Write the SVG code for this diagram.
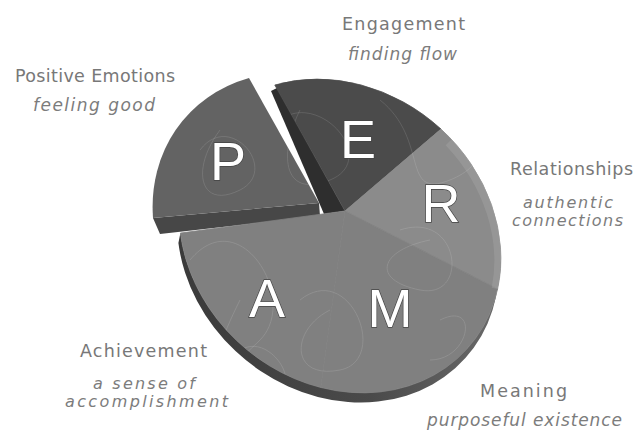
<svg xmlns="http://www.w3.org/2000/svg" width="634" height="432" viewBox="0 0 634 432">
<defs>
<style>
.lbl{font-family:"DejaVu Sans","Liberation Sans",Arial,sans-serif;font-size:17.5px;fill:#787878;text-anchor:middle}
.sub{font-family:"DejaVu Sans","Liberation Sans",Arial,sans-serif;font-size:17px;font-style:italic;fill:#7c7c7c;text-anchor:middle}
.sub2{font-family:"DejaVu Sans","Liberation Sans",Arial,sans-serif;font-size:16px;font-style:italic;fill:#7c7c7c;text-anchor:middle}
.big{font-family:"Liberation Sans",Arial,sans-serif;font-size:54px;fill:#fff;stroke:#444;stroke-width:1.4;paint-order:stroke;text-anchor:middle}
.tex{fill:none;stroke:#fff;stroke-opacity:0.12;stroke-width:1}
.slice{stroke-width:0.8;stroke-linejoin:round}
</style>
<linearGradient id="wallG" x1="0" y1="0" x2="1" y2="0">
<stop offset="0" stop-color="#3a3a3a"/>
<stop offset="0.6" stop-color="#4a4a4a"/>
<stop offset="1" stop-color="#6a6a6a"/>
</linearGradient>
<clipPath id="pieClip">
<path d="M345,211 L274.8,85 A170,147 40 0 1 441,129.1 A170,147 40 0 1 497.6,289 A170,147 40 0 1 320.8,387.5 A170,147 40 0 1 180.4,233.1 Z"/>
<path d="M319,203 L249,78 A170,147 40 0 0 153,218 Z"/>
</clipPath>
</defs>
<rect width="634" height="432" fill="#fff"/>

<g id="pie-walls">
<path d="M180.4,233.1 A170,147 40 0 0 500.9,258.2 L498.9,268.2 A170,147 40 0 1 178.4,243.1 Z" fill="url(#wallG)"/>
<polygon points="271,91 277,88 345,211 324,214" fill="#2e2e2e"/>
<polygon points="153,218 319,203 320,216 160,234" fill="#474747"/>
</g>

<g id="node-E">
<path class="slice" d="M345,211 L274.8,85 A170,147 40 0 1 441,129.1 Z" fill="#4b4b4b" stroke="#4b4b4b"/>
</g>
<g id="node-R">
<path class="slice" d="M345,211 L441,129.1 A170,147 40 0 1 497.6,289 Z" fill="#8b8b8b" stroke="#8b8b8b"/>
</g>
<g id="node-M">
<path class="slice" d="M345,211 L497.6,289 A170,147 40 0 1 320.8,387.5 Z" fill="#808080" stroke="#808080"/>
</g>
<g id="node-A">
<path class="slice" d="M345,211 L320.8,387.5 A170,147 40 0 1 180.4,233.1 Z" fill="#808080" stroke="#808080"/>
</g>
<g id="node-P">
<path d="M319,203 L249,78 A170,147 40 0 0 153,218 Z" fill="#636363"/>
</g>

<g id="texture" clip-path="url(#pieClip)">
<path d="M450,141 A170,147 40 0 1 497.6,289" fill="none" stroke="#fff" stroke-opacity="0.1" stroke-width="12"/>
<path class="tex" d="M190,260 C240,200 300,300 260,340 S200,380 240,300"/>
<path class="tex" d="M280,120 C320,90 380,160 330,180 S280,150 300,110"/>
<path class="tex" d="M380,100 C430,140 400,200 450,180 S480,120 420,110"/>
<path class="tex" d="M400,230 C460,210 470,300 420,290 S380,250 430,240"/>
<path class="tex" d="M300,300 C350,260 390,360 340,370 S290,330 330,310"/>
<path class="tex" d="M200,150 C230,110 280,170 240,190 S190,170 220,130"/>
<path class="tex" d="M440,320 C480,300 470,360 430,360"/>
<path class="tex" d="M230,360 C260,320 300,380 280,385"/>
</g>

<g id="letters">
<text class="big" x="228" y="180">P</text>
<text class="big" x="358" y="158">E</text>
<text class="big" x="441" y="222">R</text>
<text class="big" x="267" y="317">A</text>
<text class="big" x="390" y="327">M</text>
</g>

<g id="label-E">
<text class="lbl" x="403.5" y="30" textLength="123" lengthAdjust="spacing">Engagement</text>
<text class="sub" x="402.5" y="60" textLength="109" lengthAdjust="spacing">finding flow</text>
</g>
<g id="label-P">
<text class="lbl" x="95" y="82" textLength="160" lengthAdjust="spacing">Positive Emotions</text>
<text class="sub" x="94" y="111" textLength="122" lengthAdjust="spacing">feeling good</text>
</g>
<g id="label-R">
<text class="lbl" x="571.5" y="175" textLength="123" lengthAdjust="spacing">Relationships</text>
<text class="sub2" x="568" y="208" textLength="90" lengthAdjust="spacing">authentic</text>
<text class="sub2" x="567.5" y="226" textLength="111" lengthAdjust="spacing">connections</text>
</g>
<g id="label-A">
<text class="lbl" x="143.5" y="357" textLength="127" lengthAdjust="spacing">Achievement</text>
<text class="sub2" x="144" y="389" textLength="102" lengthAdjust="spacing">a sense of</text>
<text class="sub2" x="146.5" y="407" textLength="163" lengthAdjust="spacing">accomplishment</text>
</g>
<g id="label-M">
<text class="lbl" x="523.5" y="397" textLength="87" lengthAdjust="spacing">Meaning</text>
<text class="sub" x="524.5" y="426" textLength="195" lengthAdjust="spacing">purposeful existence</text>
</g>
</svg>
